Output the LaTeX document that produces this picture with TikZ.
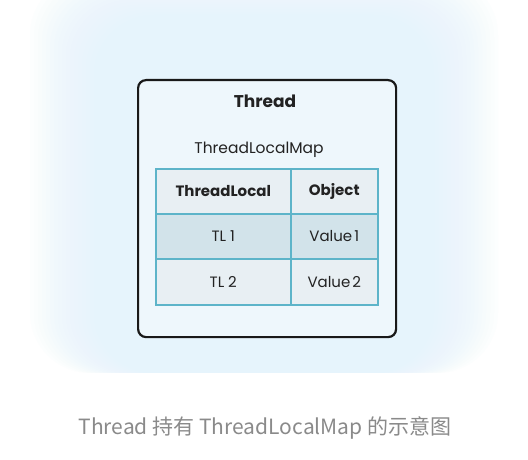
\documentclass[tikz,border=0pt]{standalone}
\usepackage{fontspec}
\setmainfont{Poppins}
\newfontfamily\cjk{Noto Sans CJK SC}
\definecolor{glow}{HTML}{E6F4FC}
\definecolor{boxfill}{HTML}{EEF7FC}
\definecolor{cellA}{HTML}{E8EFF3}
\definecolor{cellB}{HTML}{D2E3EA}
\definecolor{tline}{HTML}{5DB4C9}
\definecolor{capgray}{HTML}{8A8A8A}
\definecolor{txt}{HTML}{222222}
\tikzset{
  cellbox/.style={draw=tline, line width=1.5pt, minimum height=45pt, inner sep=0pt, text=txt, font=\fontsize{15}{17}\selectfont},
  headcell/.style={cellbox, font=\fontsize{15}{17}\selectfont\bfseries},
  threadbox/.style={draw=black!90, line width=2.2pt, rounded corners=8pt, fill=boxfill},
}
\begin{document}
\begin{tikzpicture}[x=1pt,y=-1pt]
\useasboundingbox (0,0) rectangle (528,460);
\fill[white] (0,0) rectangle (528,460);
% soft glow background
\foreach \i in {0,...,19}{
  \fill[glow, opacity=0.09, rounded corners=60pt] (30+4*\i,-25+2.5*\i) rectangle (498-4*\i,373);
}
\fill[white] (0,373) rectangle (528,460);
% thread box
\node[threadbox, minimum width=258pt, minimum height=257pt, anchor=north west] (thread) at (137,79) {};
\node[font=\bfseries\fontsize{17}{19}\selectfont, text=txt] (title) at (265,101) {Thread};
\node[font=\fontsize{15.5}{17}\selectfont, text=txt] (maplabel) at (259,150) {ThreadLocalMap};
% table
\node[headcell, fill=cellA, minimum width=135pt, anchor=north west] (h1) at (155,168) {ThreadLocal};
\node[headcell, fill=cellA, minimum width=87pt, anchor=north west] (h2) at (290,168) {Object};
\node[cellbox, fill=cellB, minimum width=135pt, anchor=north west] (r1a) at (155,213) {TL\hspace{4pt}1};
\node[cellbox, fill=cellB, minimum width=87pt, anchor=north west] (r1b) at (290,213) {Value\hspace{2pt}1};
\node[cellbox, fill=cellA, minimum width=135pt, anchor=north west, minimum height=46pt] (r2a) at (155,258) {TL\hspace{4pt}2};
\node[cellbox, fill=cellA, minimum width=87pt, anchor=north west, minimum height=46pt] (r2b) at (290,258) {Value\hspace{2pt}2};
% caption
\node[text=capgray, font=\fontsize{21}{24}\selectfont\cjk] (caption) at (265,428) {Thread 持有 ThreadLocalMap 的示意图};
\end{tikzpicture}
\end{document}
